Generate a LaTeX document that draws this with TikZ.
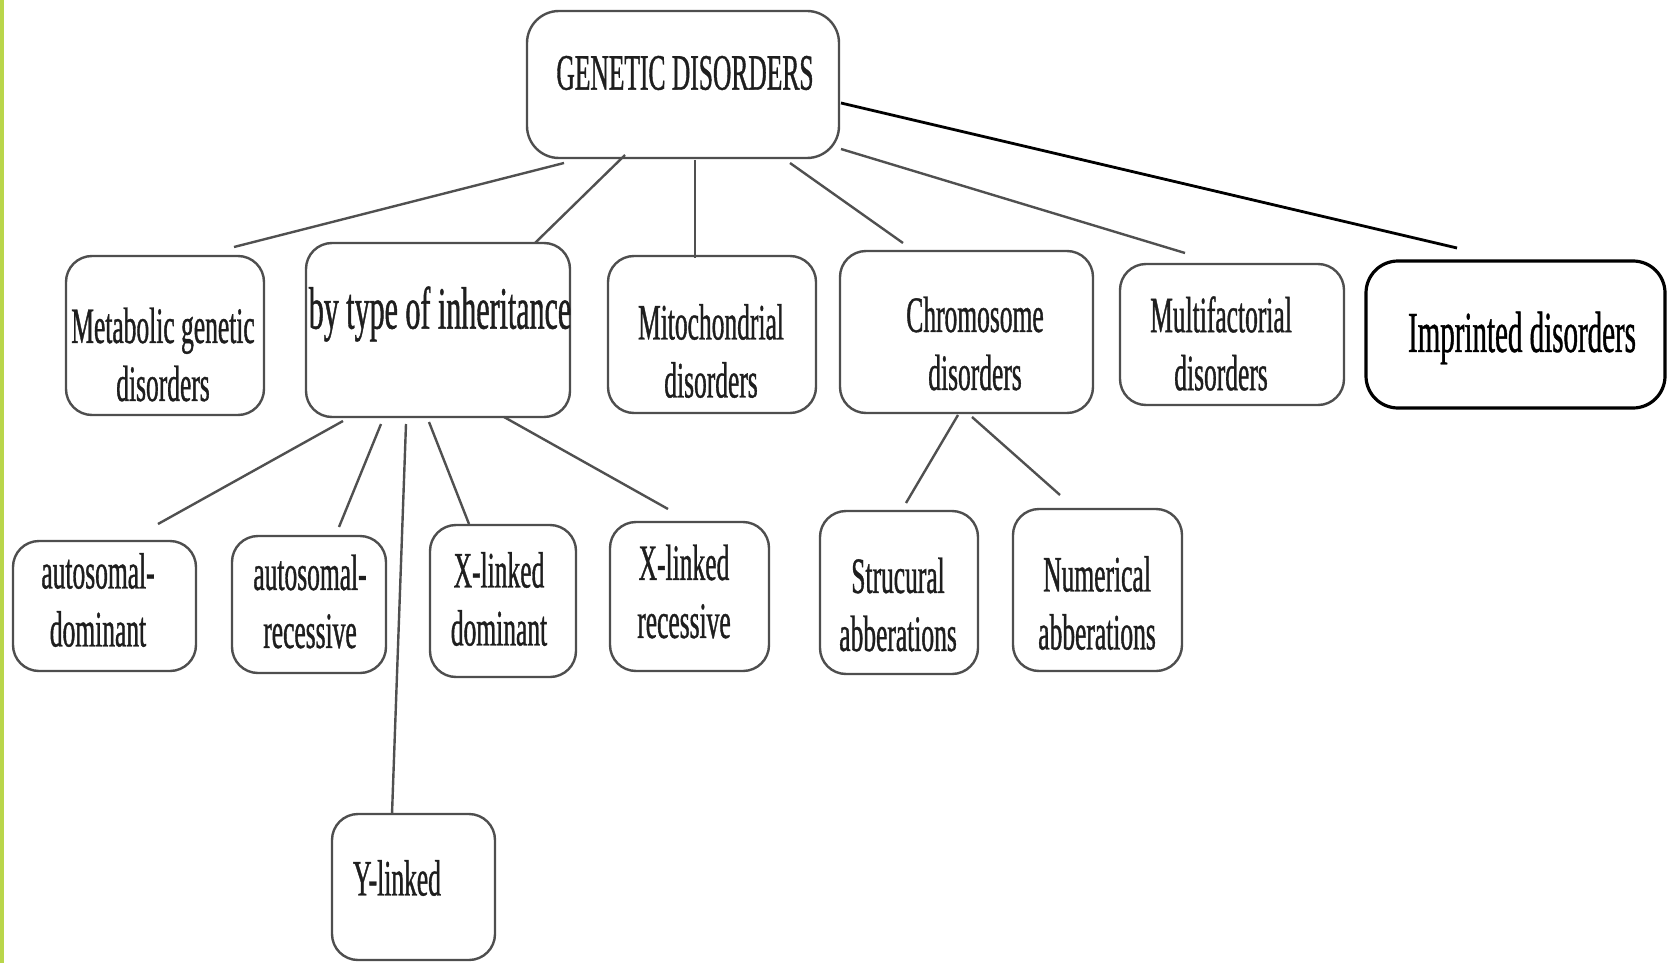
\documentclass[tikz,border=0pt]{standalone}
\usepackage{fontspec}
\setmainfont{Liberation Serif}[FakeStretch=0.5, FakeBold=0.7]
\usetikzlibrary{calc}
\definecolor{barcol}{HTML}{B9D64A}
\definecolor{boxline}{HTML}{4E4E4E}
\definecolor{linkcol}{HTML}{505050}
\definecolor{txtcol}{HTML}{1E1E1E}
\tikzset{
  box/.style={draw=boxline, line width=1.2pt, rounded corners=13pt,
    inner sep=0pt, outer sep=0pt, fill=white},
  boldbox/.style={box, draw=black, line width=1.6pt},
  lbl/.style={inner sep=0pt, align=center, text=txtcol,
    font=\fontsize{25.5}{29}\selectfont},
  link/.style={draw=linkcol, line width=1.2pt},
  boldlink/.style={draw=black, line width=1.4pt},
}
\begin{document}
\begin{tikzpicture}[x=0.5pt, y=-0.5pt]
\useasboundingbox (0,0) rectangle (1670,963);
% page accent on the left edge
\fill[barcol] (0,0) rectangle (4,963);

% boxes
\node[box, rounded corners=16pt, minimum width=156pt, minimum height=73.5pt] (gd) at (683,84.5) {};
\node[box, minimum width=99pt,   minimum height=79.5pt] (met)  at (165,335.5) {};
\node[box, minimum width=132pt,  minimum height=87pt]   (inh)  at (438,330) {};
\node[box, minimum width=104pt,  minimum height=78.5pt] (mito) at (712,334.5) {};
\node[box, minimum width=126.5pt,minimum height=81pt]   (chr)  at (966.5,332) {};
\node[box, minimum width=112pt,  minimum height=70.5pt] (mul)  at (1232,334.5) {};
\node[boldbox, rounded corners=16pt, minimum width=149.5pt, minimum height=73.5pt] (imp) at (1515.5,334.5) {};
\node[box, minimum width=91.5pt, minimum height=65pt]   (ad)   at (104.5,606) {};
\node[box, minimum width=77pt,   minimum height=68.5pt] (ar)   at (309,604.5) {};
\node[box, minimum width=73pt,   minimum height=76pt]   (xld)  at (503,601) {};
\node[box, minimum width=79.5pt, minimum height=74.5pt] (xlr)  at (689.5,596.5) {};
\node[box, minimum width=79pt,   minimum height=81.5pt] (str)  at (899,592.5) {};
\node[box, minimum width=84.5pt, minimum height=81pt]   (num)  at (1097.5,590) {};
\node[box, minimum width=81.5pt, minimum height=73pt]   (yl)   at (413.5,887) {};

% labels
\node[lbl] (gd-t)   at (685,73)    {GENETIC DISORDERS};
\node[lbl] (met-t)  at (163,354.5) {Metabolic genetic\\disorders};
\node[lbl, font=\fontsize{30}{34}\selectfont] (inh-t) at (440,314) {by type of inheritance};
\node[lbl] (mito-t) at (711,351)   {Mitochondrial\\disorders};
\node[lbl] (chr-t)  at (975,343.5) {Chromosome\\disorders};
\node[lbl] (mul-t)  at (1221,343.5){Multifactorial\\disorders};
\node[lbl, text=black, font=\fontsize{29}{33}\selectfont] (imp-t) at (1522,338) {Imprinted disorders};
\node[lbl] (ad-t)   at (98,600)    {autosomal-\\dominant};
\node[lbl] (ar-t)   at (310,601.5) {autosomal-\\recessive};
\node[lbl] (xld-t)  at (499,599)   {X-linked\\dominant};
\node[lbl] (xlr-t)  at (684,591.5) {X-linked\\recessive};
\node[lbl] (str-t)  at (898,604.5) {Strucural\\abberations};
\node[lbl] (num-t)  at (1097,603)  {Numerical\\abberations};
\node[lbl] (yl-t)   at (397,878)   {Y-linked};

% connectors from the root
\draw[link] ($(gd.south west)+(37,5)$)  -- ($(met.north west)+(168,-9)$);
\draw[link] ($(gd.south west)+(98,-3)$) -- ($(inh.north east)+(-35,0)$);
\draw[link] ($(gd.south)+(12,2)$)       -- ($(mito.north)+(-17,2)$);
\draw[link] ($(gd.south east)+(-49,5)$) -- ($(chr.north)+(-63.5,-8)$);
\draw[link] ($(gd.south east)+(2,-9)$)  -- ($(mul.north)+(-47,-11)$);
\draw[boldlink] ($(gd.east)+(2,18.5)$)  -- ($(imp.north)+(-58.5,-13)$);

% connectors from "by type of inheritance"
\draw[link] ($(inh.south west)+(37,4)$) -- ($(ad.north)+(53.5,-17)$);
\draw[link] ($(inh.south)+(-57,7)$)     -- ($(ar.north)+(30,-9)$);
\draw[link] ($(inh.south)+(-32,7)$)     -- ($(yl.north)+(-21.5,0)$);
\draw[link] ($(inh.south)+(-9,5)$)      -- ($(xld.north)+(-34,-1)$);
\draw[link] ($(inh.south)+(66,0)$)      -- ($(xlr.north)+(-21.5,-13)$);

% connectors from "Chromosome disorders"
\draw[link] ($(chr.south)+(-8.5,2)$)    -- ($(str.north)+(7,-8)$);
\draw[link] ($(chr.south)+(5.5,4)$)     -- ($(num.north)+(-37.5,-14)$);
\end{tikzpicture}
\end{document}
